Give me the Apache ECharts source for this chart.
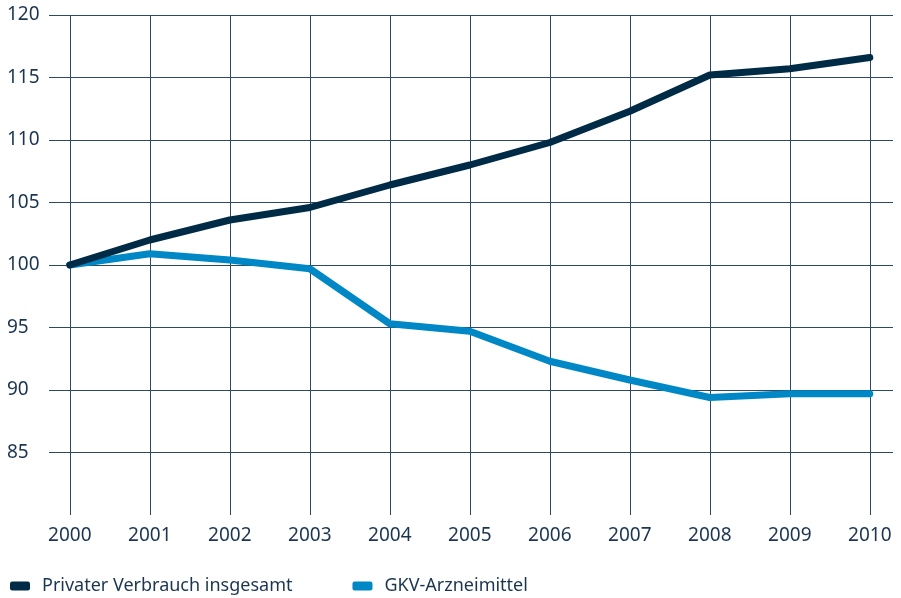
<!DOCTYPE html>
<html><head><meta charset="utf-8">
<script src="https://cdn.jsdelivr.net/npm/echarts@6/dist/echarts.min.js"></script>
<style>html,body{margin:0;padding:0;background:#fff}#c{width:901px;height:598px}</style>
</head><body><div id="c"></div>
<script>
const years = [2000, 2001, 2002, 2003, 2004, 2005, 2006, 2007, 2008, 2009, 2010];
const privaterVerbrauch = [100, 102.0, 103.6, 104.6, 106.4, 108.0, 109.8, 112.3, 115.2, 115.7, 116.6];
const gkvArzneimittel = [100, 100.9, 100.4, 99.7, 95.3, 94.7, 92.3, 90.8, 89.4, 89.7, 89.7];
const yTicks = [80, 85, 90, 95, 100, 105, 110, 115, 120];
const seriesNames = ['Privater Verbrauch insgesamt', 'GKV-Arzneimittel'];

const FONT = '"Noto Sans", sans-serif';
const TXT = '#1b3550';
const GRIDC = '#2e4a62';
const chart = echarts.init(document.getElementById('c'), null, {renderer: 'canvas'});
const pairs = arr => years.map((y, i) => [y, arr[i]]);
chart.setOption({
  animation: false,
  grid: {left: 49, right: 8, top: 15, bottom: 83, containLabel: false},
  xAxis: {
    type: 'value',
    min: 1999.74, max: 2010.29,
    axisLine: {show: false},
    splitLine: {show: false},
    axisTick: {show: true, customValues: years, inside: true, length: 500, lineStyle: {color: GRIDC, width: 1}},
    axisLabel: {customValues: years, margin: 11, color: TXT, fontSize: 19, fontFamily: FONT,
      formatter: v => String(Math.round(v))}
  },
  yAxis: {
    type: 'value', min: yTicks[0], max: yTicks[yTicks.length - 1], interval: 5,
    axisLine: {show: false}, axisTick: {show: false},
    axisLabel: {color: TXT, fontSize: 19, fontFamily: FONT, align: 'left', margin: 42,
      formatter: v => v === 80 ? '' : String(v)},
    splitLine: {show: true, lineStyle: {color: yTicks.map(v => v === 80 ? 'rgba(0,0,0,0)' : GRIDC), width: 1}}
  },
  legend: {
    bottom: -2, left: 5, icon: 'roundRect', itemWidth: 20, itemHeight: 9, itemGap: 60,
    textStyle: {color: TXT, fontSize: 18, fontFamily: FONT, padding: [0, 0, 0, 7]},
    data: seriesNames
  },
  series: [
    {name: seriesNames[1], type: 'line', data: pairs(gkvArzneimittel), symbol: 'none',
     lineStyle: {color: '#0088c6', width: 7, cap: 'round', join: 'round'}, itemStyle: {color: '#0088c6'}, z: 3},
    {name: seriesNames[0], type: 'line', data: pairs(privaterVerbrauch), symbol: 'none',
     lineStyle: {color: '#002b46', width: 7, cap: 'round', join: 'round'}, itemStyle: {color: '#002b46'}, z: 4}
  ]
});
</script></body></html>
